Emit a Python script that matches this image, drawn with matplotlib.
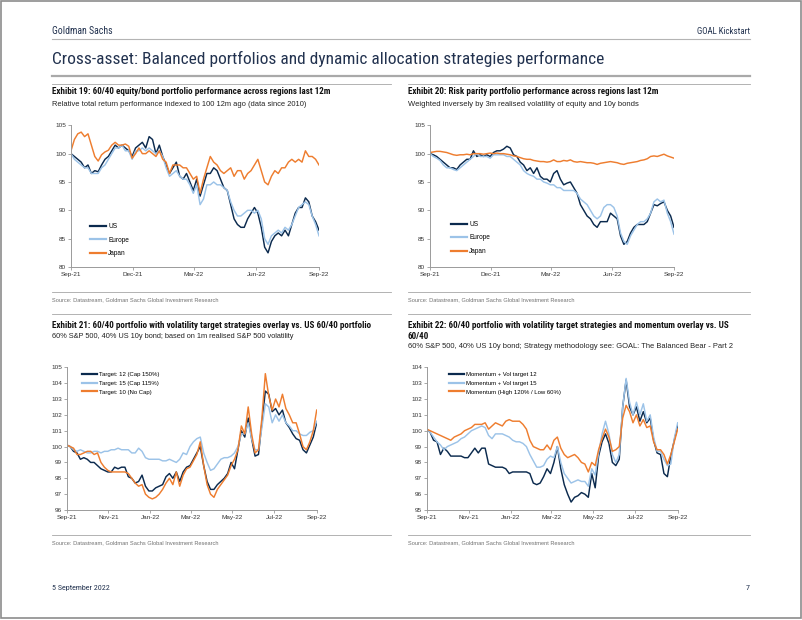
import numpy as np
import pandas as pd
import matplotlib
matplotlib.use('Agg')
import matplotlib.pyplot as plt
from matplotlib import font_manager
from matplotlib.lines import Line2D
from matplotlib.patches import Rectangle

# ---------------- data ----------------
START, END = '2021-09-02', '2022-09-02'

c1_labels = ['US', 'Europe', 'Japan']
c1_us = [100, 99.5, 99, 98.5, 97.5, 98, 96.5, 97, 96.8, 98, 99, 99.5, 100.5, 101.5, 101, 101.5, 101, 100.5, 99.5, 101,
         101.5, 102, 101, 103, 102.5, 100, 101.5, 99.5, 98, 96.5, 97.5, 98.5, 96, 95.5, 96.5, 95, 93.5, 95.5, 92.5, 94.5,
         96.5, 96.5, 97.5, 97, 95.5, 94, 93.5, 91, 88.5, 87.5, 87, 87, 88.5, 89.5, 90.5, 89.5, 87, 83.5, 82.5, 84.5,
         85.5, 86, 85.5, 86.5, 85.5, 87.5, 89.5, 90.5, 90.5, 92.2, 91.5, 89, 88, 86.5]
c1_eu = [100, 99, 98.5, 98, 97.5, 97.5, 96.5, 96.5, 96.5, 97.5, 98, 99, 100, 101, 101, 101.5, 100.5, 100.5, 99, 100.5,
         100.5, 101, 100.5, 101, 100.5, 100, 100.5, 99.5, 97.5, 96, 96.5, 97, 96, 95.5, 95.5, 94.5, 93, 94.5, 91, 92,
         94.5, 94.5, 95, 94.5, 94.5, 94, 93.5, 91.5, 90, 89, 89, 89.5, 90, 90, 89.5, 90, 88.5, 85, 84, 85.5,
         86, 86.5, 86, 87, 86.5, 87.5, 89, 90.5, 91, 91.5, 91, 89, 87.5, 85.5]
c1_jp = [100.5, 102.5, 103.5, 103.8, 103, 103.5, 101.5, 99.5, 98.7, 99.8, 100.3, 100.6, 101.5, 102, 101.5, 101.5, 101.7,
         101.3, 99.2, 100, 101, 100, 100, 100.5, 100, 99.5, 100.5, 99, 98.5, 96.5, 98, 98, 98, 97.5, 97.5, 96.5, 95.5,
         96, 93, 95.5, 97.5, 99.5, 98.5, 98, 97, 96.5, 97, 97.5, 96, 97, 97, 95.5, 96.5, 97, 98, 99, 97, 95, 94.5, 96,
         97, 96.5, 97.5, 97.5, 98.5, 99, 98.5, 99, 98.5, 100.5, 99.5, 99.5, 99, 98]

c2_labels = ['US', 'Europe', 'Japan']
c2_us = [100, 99.8, 99.5, 99, 98.5, 98, 97.5, 97.5, 97.2, 98, 98.5, 99, 99, 100.5, 99.5, 99.8, 99.5, 99.8, 99.5, 100.2,
         100.5, 100.5, 100.8, 101.3, 101, 99.8, 99.5, 98.5, 98, 97, 97.5, 96.5, 97.5, 96, 95.5, 95.5, 95, 96.5, 97, 95.5,
         94.5, 94.8, 95, 94, 93, 91, 90, 89, 88.5, 87.5, 87, 88, 88, 88, 89.5, 89, 88.5, 85.5, 84, 84.5,
         86, 87, 87.5, 87.5, 87.5, 88, 89.5, 91, 90.8, 91.2, 91.5, 90, 89, 87]
c2_eu = [100, 99.5, 99.2, 98.8, 98, 97.5, 97.5, 97.2, 97, 97.5, 98, 98.5, 99, 99.5, 100, 99.5, 99.5, 99.5, 99.2, 99.8,
         99.8, 99.8, 99.8, 99.5, 99.5, 99, 98.5, 98, 97, 96.5, 96.2, 96, 95.5, 95.5, 95, 94.8, 94.5, 94.5, 94, 94,
         93.5, 93.5, 93.5, 93.5, 93, 92, 91.5, 91, 90, 89, 88.5, 89, 90.5, 91, 91, 90.5, 89, 86, 84.5, 84,
         85.5, 86.5, 87.5, 88, 88, 88.5, 89.5, 91.5, 92, 91.5, 91.8, 89.5, 88, 85.8]
c2_jp = [100.2, 100.3, 100.4, 100.4, 100.3, 100.2, 100, 99.8, 99.7, 99.8, 99.8, 99.9, 99.8, 100, 100, 100, 99.9, 100,
         100.1, 100, 100.1, 100, 100, 99.9, 99.8, 99.6, 99.5, 99.3, 99.1, 99, 99, 98.8, 98.7, 98.6, 98.6, 98.5, 98.6,
         98.9, 98.6, 98.6, 98.8, 98.7, 98.9, 98.6, 98.5, 98.6, 98.5, 98.4, 98.4, 98.3, 98.1, 98.3, 98.4, 98.5, 98.6,
         98.5, 98.4, 98.2, 98.1, 98.3, 98.4, 98.5, 98.6, 98.8, 98.9, 99.1, 99.5, 99.6, 99.5, 99.7, 99.9, 99.6, 99.4, 99.2]

c3_labels = ['Target: 12 (Cap 150%)', 'Target: 15 (Cap 115%)', 'Target: 10 (No Cap)']
c3_t12 = [100.1, 100.0, 99.7, 99.6, 99.2, 99.3, 99.2, 99.0, 99.0, 98.8, 98.6, 98.5, 98.4, 98.4, 98.7, 98.6, 98.7, 98.7,
          98.1, 98.0, 97.7, 97.8, 98.2, 97.5, 97.2, 97.2, 97.4, 97.5, 97.6, 98.1, 98.3, 98.0, 98.4, 97.8, 98.4, 98.7,
          98.8, 99.2, 99.6, 100.0, 98.8, 97.8, 97.3, 97.3, 97.6, 97.8, 98.0, 98.3, 99.0, 98.6, 99.8, 101.0, 100.6,
          101.8, 100.5, 99.4, 99.5, 101.5, 103.5, 103.3, 102.2, 102.4, 102.0, 102.3, 101.5, 101.2, 100.8, 100.5,
          100.4, 99.8, 99.6, 100.1, 100.6, 101.5]
c3_t15 = [100.1, 100.0, 99.8, 99.7, 99.8, 99.7, 99.6, 99.6, 99.7, 99.7, 99.6, 99.7, 99.7, 99.8, 99.8, 99.9, 99.8, 99.8,
          99.8, 99.6, 99.6, 99.9, 99.7, 99.3, 99.2, 99.2, 99.2, 99.2, 99.1, 99.1, 99.2, 99.1, 99.0, 99.2, 99.6, 99.5,
          100.0, 100.3, 100.5, 100.6, 99.6, 99.0, 98.5, 98.6, 98.9, 99.2, 99.3, 99.3, 99.4, 99.6, 100.0, 100.8, 100.8,
          101.5, 100.5, 99.8, 99.8, 101.2, 102.7, 102.5, 101.5, 102.0, 101.6, 102.0, 101.5, 101.3, 101.0, 101.0,
          100.8, 100.7, 100.7, 100.9, 101.0, 101.6]
c3_t10 = [100.1, 100.0, 99.9, 99.5, 99.5, 99.6, 99.7, 99.7, 99.5, 99.6, 99.0, 98.7, 98.5, 98.4, 98.4, 98.4, 98.4, 98.4,
          98.3, 98.0, 97.7, 97.5, 97.6, 97.0, 96.8, 96.7, 96.8, 97.0, 97.3, 97.7, 98.0, 97.6, 98.4, 97.5, 98.2, 98.6,
          98.7, 99.1, 99.5, 100.3, 98.8, 97.6, 97.0, 96.8, 97.3, 97.6, 97.9, 98.2, 98.8, 99.2, 99.8, 101.3, 100.8,
          102.5, 100.8, 99.6, 99.8, 101.8, 104.6, 103.2, 102.3, 103.0, 102.5, 103.3, 102.4, 102.0, 101.5, 101.5,
          100.8, 100.0, 99.8, 100.3, 101.0, 102.3]

c4_labels = ['Momentum + Vol target 12', 'Momentum + Vol target 15', 'Momentum (High 120% / Low 60%)']
c4_v12 = [100.1, 99.9, 99.4, 99.3, 98.5, 98.9, 98.7, 98.4, 98.4, 98.4, 98.4, 98.3, 98.3, 98.6, 98.9, 98.6, 98.9, 98.9,
          97.9, 97.8, 97.7, 97.7, 97.7, 97.6, 97.3, 97.4, 97.4, 97.4, 97.4, 97.4, 97.3, 96.7, 96.6, 96.7, 97.1, 97.6,
          97.3, 98.0, 99.0, 97.6, 96.6, 96.0, 95.5, 95.8, 95.9, 96.1, 96.0, 95.8, 97.3, 96.4, 98.4, 99.3, 99.8, 99.2,
          98.0, 97.8, 98.2, 101.5, 103.2, 101.5, 101.0, 101.5, 100.6, 101.2, 100.5, 100.8, 99.4, 98.6, 98.5, 97.3,
          97.1, 98.4, 99.4, 100.3]
c4_v15 = [100.1, 99.9, 99.6, 99.3, 99.1, 98.8, 99.0, 99.1, 99.2, 99.3, 99.5, 99.6, 99.8, 100.0, 100.1, 100.2, 100.3,
          100.2, 99.7, 99.5, 99.8, 99.8, 99.8, 99.7, 99.6, 99.4, 99.3, 99.3, 99.2, 99.0, 98.5, 98.1, 97.7, 97.7, 97.8,
          98.2, 98.4, 98.3, 99.0, 98.0, 97.3, 97.0, 96.7, 96.8, 96.9, 96.8, 96.8, 96.5, 97.6, 97.2, 98.6, 99.8, 100.6,
          99.8, 98.5, 98.0, 98.5, 101.5, 103.3, 101.8, 101.0, 101.8, 101.0, 101.7, 100.6, 101.0, 99.6, 98.7, 98.7,
          98.2, 97.8, 97.9, 99.5, 100.5]
c4_mom = [100.1, 100.0, 99.9, 99.8, 99.7, 99.6, 99.5, 99.4, 99.6, 99.7, 99.8, 100.0, 100.1, 100.2, 100.4, 100.4, 100.4,
          100.5, 100.1, 100.3, 100.5, 100.4, 100.3, 100.6, 100.7, 100.6, 100.6, 100.6, 100.4, 100.1, 99.4, 99.0, 98.9,
          98.8, 98.8, 99.1, 98.8, 99.4, 99.6, 98.9, 98.5, 98.3, 98.4, 98.5, 98.3, 98.0, 97.9, 97.4, 98.0, 97.8, 98.8,
          99.5, 100.1, 99.6, 98.7, 98.8, 99.0, 100.8, 101.6, 101.2, 100.5, 101.0, 100.3, 100.7, 100.2, 100.3, 99.3,
          98.8, 98.8, 98.5, 97.9, 98.5, 99.3, 100.1]

q_tick_dates = ['2021-09-02', '2021-12-02', '2022-03-02', '2022-06-02', '2022-09-02']
q_tick_labels = ['Sep-21', 'Dec-21', 'Mar-22', 'Jun-22', 'Sep-22']
b_tick_dates = ['2021-09-02', '2021-11-02', '2022-01-02', '2022-03-02', '2022-05-02', '2022-07-02', '2022-09-02']
b_tick_labels = ['Sep-21', 'Nov-21', 'Jan-22', 'Mar-22', 'May-22', 'Jul-22', 'Sep-22']
y_ticks_12 = [80, 85, 90, 95, 100, 105]
y_ticks_3 = [96, 97, 98, 99, 100, 101, 102, 103, 104, 105]
y_ticks_4 = [95, 96, 97, 98, 99, 100, 101, 102, 103, 104]

# ---------------- style ----------------
NAVY = '#0b2a4e'
LIGHT = '#9cc3e8'
ORANGE = '#ee7d2f'
HEAD = '#22324f'

W, H = 802, 620
fig = plt.figure(figsize=(W / 100, H / 100), dpi=100)
fig.patch.set_facecolor('white')

avail = {f.name for f in font_manager.fontManager.ttflist}


def pick(*names):
    for n in names:
        if n in avail:
            return n
    return 'DejaVu Sans'


NARROW = pick('Roboto Condensed', 'Liberation Sans Narrow', 'Open Sans Condensed', 'Liberation Sans')
REG = pick('Liberation Sans', 'Arimo', 'DejaVu Sans')
renderer = fig.canvas.get_renderer()


def fx(x):
    return x / W


def fy(y):
    return 1 - y / H


def fit_text(x, y, s, width, family, ha='left', weight='normal', color='#000000'):
    t = fig.text(fx(x), fy(y), s, ha=ha, va='center', family=family, weight=weight, color=color, fontsize=8)
    w = t.get_window_extent(renderer).width
    t.set_fontsize(8 * width / w)
    return t


def hline(x0, x1, y, color='#a6a6a6', lw=0.6):
    fig.add_artist(Line2D([fx(x0), fx(x1)], [fy(y), fy(y)], transform=fig.transFigure, color=color, lw=lw))


# page border
fig.add_artist(Rectangle((fx(0.8), fy(617.5)), fx(800.4), (616.7) / H, transform=fig.transFigure,
                         fill=False, edgecolor='#8c8c8c', lw=1.2))

# header
fit_text(52, 31, 'Goldman Sachs', 61, NARROW, color=HEAD)
fit_text(750, 31, 'GOAL Kickstart', 53, NARROW, ha='right', color=HEAD)
hline(52, 750, 38.5, '#b4b4b4', 0.8)
fit_text(52, 59, 'Cross-asset: Balanced portfolios and dynamic allocation strategies performance', 551, NARROW,
         color=HEAD)
hline(52, 750, 76, '#a9a9a9', 1.6)

# footer
fit_text(52, 588, '5 September 2022', 58, NARROW, color=HEAD)
fit_text(750, 588, '7', 4, NARROW, ha='right', color=HEAD)

# exhibit text blocks
SRC = 'Source: Datastream, Goldman Sachs Global Investment Research'
hline(52, 391, 83.5)
fit_text(52, 92, 'Exhibit 19: 60/40 equity/bond portfolio performance across regions last 12m', 275, NARROW,
         weight='bold', color='#111111')
fit_text(52, 104, 'Relative total return performance indexed to 100 12m ago (data since 2010)', 255, REG,
         color='#222222')
hline(52, 391, 291.5)
fit_text(52, 300, SRC, 166, REG, color='#707070')

hline(408, 750, 83.5)
fit_text(408, 92, 'Exhibit 20: Risk parity portfolio performance across regions last 12m', 250, NARROW,
         weight='bold', color='#111111')
fit_text(408, 104, 'Weighted inversely by 3m realised volatility of equity and 10y bonds', 230, REG,
         color='#222222')
hline(408, 750, 291.5)
fit_text(408, 300, SRC, 167, REG, color='#707070')

hline(52, 391, 313.5)
fit_text(52, 325, 'Exhibit 21: 60/40 portfolio with volatility target strategies overlay vs. US 60/40 portfolio',
         315, NARROW, weight='bold', color='#111111')
fit_text(52, 336, '60% S&P 500, 40% US 10y bond; based on 1m realised S&P 500 volatility', 245, REG,
         color='#222222')
hline(52, 391, 534.5)
fit_text(52, 543, SRC, 166, REG, color='#707070')

hline(408, 750, 313.5)
t22a = fit_text(408, 325, 'Exhibit 22: 60/40 portfolio with volatility target strategies and momentum overlay vs. US',
                320, NARROW, weight='bold', color='#111111')
fig.text(fx(408), fy(336), '60/40', ha='left', va='center', family=NARROW, weight='bold', color='#111111',
         fontsize=t22a.get_fontsize())
fit_text(408, 347, '60% S&P 500, 40% US 10y bond; Strategy methodology see: GOAL: The Balanced Bear - Part 2', 322,
         REG, color='#222222')
hline(408, 750, 534.5)
fit_text(408, 543, SRC, 167, REG, color='#707070')

start, end = pd.Timestamp(START), pd.Timestamp(END)


def chart(box, series, colors, labels, yticks, tick_dates, tick_labels, anchor, spacing, legfs):
    l, t, r, b = box
    ax = fig.add_axes([fx(l), fy(b), (r - l) / W, (b - t) / H])
    for vals, c, lab in zip(series, colors, labels):
        ax.plot(pd.date_range(start, end, periods=len(vals)), vals, color=c, lw=1.05, label=lab,
                solid_joinstyle='round')
    ax.set_xlim(start, end)
    ax.set_ylim(yticks[0], yticks[-1])
    ax.set_yticks(yticks)
    ax.set_yticklabels([str(v) for v in yticks])
    ax.set_xticks(pd.to_datetime(tick_dates))
    ax.set_xticklabels(tick_labels)
    for s in ['top', 'right']:
        ax.spines[s].set_visible(False)
    for s in ['left', 'bottom']:
        ax.spines[s].set_color('#9a9a9a')
        ax.spines[s].set_linewidth(0.7)
    ax.tick_params(axis='both', labelsize=4.6, labelcolor='#333333', color='#9a9a9a', length=2.2, width=0.6,
                   direction='out', pad=1.2)
    for lab in ax.get_xticklabels() + ax.get_yticklabels():
        lab.set_family(REG)
    ax.set_facecolor('none')
    leg = ax.legend(loc='upper left', bbox_to_anchor=anchor, frameon=False, borderaxespad=0, borderpad=0,
                    handlelength=2.5, handletextpad=0.35, labelspacing=spacing,
                    prop={'family': REG, 'size': legfs})
    for ln in leg.get_lines():
        ln.set_linewidth(1.6)
    return ax


chart((71, 125.3, 319, 267), [c1_us, c1_eu, c1_jp], [NAVY, LIGHT, ORANGE], c1_labels, y_ticks_12,
      q_tick_dates, q_tick_labels, (0.075, 0.31), 1.0, 4.7)
chart((430, 125.3, 674, 267), [c2_us, c2_eu, c2_jp], [NAVY, LIGHT, ORANGE], c2_labels, y_ticks_12,
      q_tick_dates, q_tick_labels, (0.085, 0.325), 1.0, 4.7)
chart((66.7, 367.3, 316.7, 510), [c3_t12, c3_t15, c3_t10], [NAVY, LIGHT, ORANGE], c3_labels, y_ticks_3,
      b_tick_dates, b_tick_labels, (0.06, 0.97), 0.62, 4.3)
chart((426.7, 367.3, 677.7, 510), [c4_v12, c4_v15, c4_mom], [NAVY, LIGHT, ORANGE], c4_labels, y_ticks_4,
      b_tick_dates, b_tick_labels, (0.09, 0.97), 0.62, 4.3)

fig.savefig('out.png', dpi=100, facecolor='white')
